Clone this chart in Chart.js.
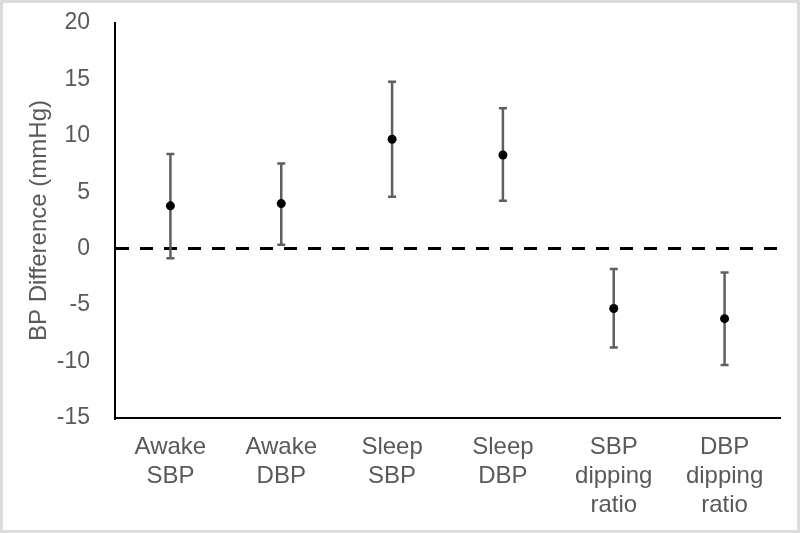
<!DOCTYPE html>
<html>
<head>
<meta charset="utf-8">
<script src="https://cdn.jsdelivr.net/npm/chart.js@4"></script>
<style>
  body { margin: 0; background: #fff; }
  #wrap { width: 800px; height: 533px; position: relative; }
  #wrap canvas { outline: 3px solid #dcdcdc; outline-offset: -3px; }
</style>
</head>
<body>
<div id="wrap"><canvas id="chart"></canvas></div>
<script>
// categories and values
const categories = [['Awake', 'SBP'], ['Awake', 'DBP'], ['Sleep', 'SBP'], ['Sleep', 'DBP'], ['SBP', 'dipping', 'ratio'], ['DBP', 'dipping', 'ratio']];
const means = [3.8, 4.0, 9.7, 8.3, -5.3, -6.2];
const lower = [-0.85, 0.35, 4.6, 4.25, -8.75, -10.3];
const upper = [8.4, 7.55, 14.8, 12.45, -1.8, -2.1];

const textGrey = '#595959';
const fontFamily = 'Liberation Sans, Arial, sans-serif';

// error bars drawn with the chart's own scales
const errorBars = {
  id: 'errorBars',
  beforeDatasetsDraw(chart) {
    const ctx = chart.ctx;
    const x = chart.scales.x, y = chart.scales.y;
    ctx.save();
    ctx.strokeStyle = '#5f5f5f';
    ctx.lineWidth = 2.5;
    for (let i = 0; i < means.length; i++) {
      const px = x.getPixelForValue(i);
      const top = y.getPixelForValue(upper[i]);
      const bot = y.getPixelForValue(lower[i]);
      ctx.beginPath();
      ctx.moveTo(px, top); ctx.lineTo(px, bot);
      ctx.moveTo(px - 4, top); ctx.lineTo(px + 4, top);
      ctx.moveTo(px - 4, bot); ctx.lineTo(px + 4, bot);
      ctx.stroke();
    }
    ctx.restore();
  }
};

new Chart(document.getElementById('chart'), {
  type: 'line',
  data: {
    labels: categories,
    datasets: [{
      data: means,
      showLine: false,
      pointRadius: 4.5,
      pointHoverRadius: 4.5,
      pointBackgroundColor: '#000',
      pointBorderColor: '#000',
      pointBorderWidth: 0
    }]
  },
  options: {
    responsive: true,
    maintainAspectRatio: false,
    animation: false,
    layout: { padding: { top: 23, right: 20, bottom: 0, left: 0 } },
    plugins: { legend: { display: false }, tooltip: { enabled: false } },
    scales: {
      x: {
        offset: true,
        afterFit(scale) { scale.height = 115; },
        grid: { display: false, drawTicks: false },
        border: { color: '#000', width: 2 },
        ticks: {
          color: textGrey,
          padding: 15,
          maxRotation: 0,
          autoSkip: false,
          font: { family: fontFamily, size: 24, lineHeight: 1.2 }
        }
      },
      y: {
        min: -15,
        max: 20,
        afterFit(scale) {
          scale.width = 115;
          scale.paddingTop = 0;
          scale.paddingBottom = 0;
        },
        border: { color: '#000', width: 2, dash: [13, 11] },
        grid: {
          drawTicks: false,
          lineWidth: 3,
          color: ctx => ctx.tick && ctx.tick.value === 0 ? '#000' : 'rgba(0,0,0,0)'
        },
        ticks: {
          stepSize: 5,
          color: textGrey,
          padding: 25,
          font: { family: fontFamily, size: 23 }
        },
        title: {
          display: true,
          text: 'BP Difference (mmHg)',
          color: textGrey,
          padding: { top: 25, bottom: 0 },
          font: { family: fontFamily, size: 24, lineHeight: 1.2 }
        }
      }
    }
  },
  plugins: [errorBars]
});
</script>
</body>
</html>
